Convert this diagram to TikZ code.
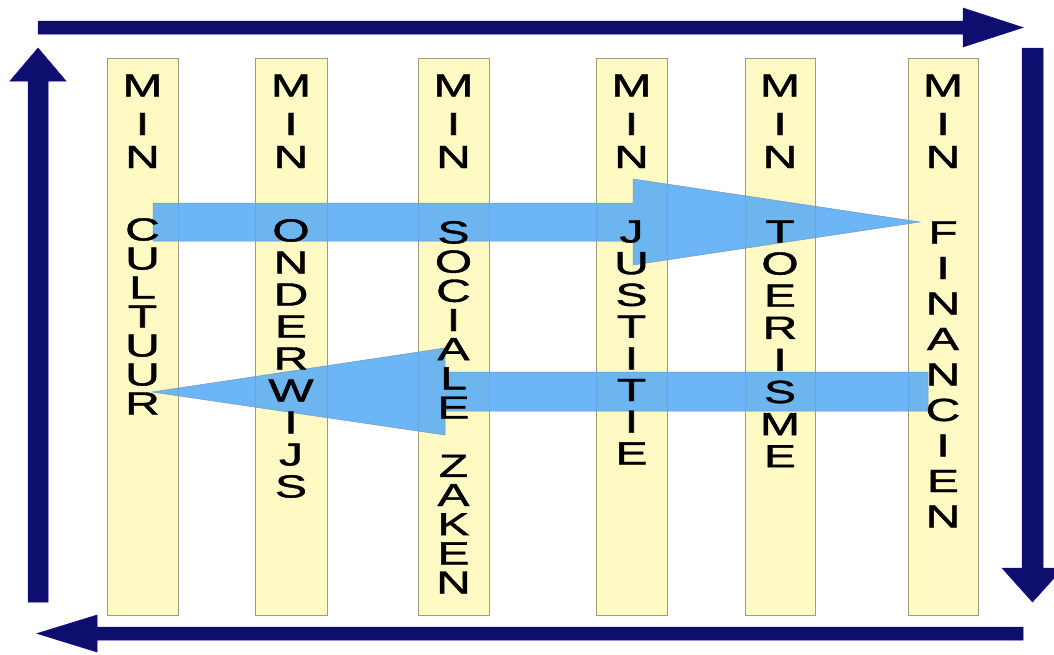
\documentclass[tikz,border=0pt]{standalone}
\usepackage{fontspec}
\setmainfont{Liberation Sans}
\newfontfamily\letterfont{Liberation Sans}[FakeBold=1.2]
\definecolor{navyarrow}{RGB}{14,14,110}
\definecolor{colfill}{RGB}{255,250,195}
\definecolor{colline}{RGB}{160,155,120}
\definecolor{flowblue}{RGB}{88,172,246}
\definecolor{flowline}{RGB}{120,150,185}
\tikzset{
  column/.style={draw=colline, line width=0.8pt, fill=colfill},
  letter/.style={inner sep=0pt, text height=23pt, text depth=0pt, font=\letterfont\fontsize{32}{32}\selectfont},
  cyclearrow/.style={fill=navyarrow, draw=navyarrow!80!blue, line width=0.5pt},
  flowarrow/.style={fill=flowblue, fill opacity=0.88, draw=flowline, line width=0.5pt}
}
\newcommand\minletters[2]{%
  \foreach \ch/\yy [count=\i] in {M/85,I/123.5,N/156.5}
    \node[letter] (#1-min\i) at (#2,\yy) {\scalebox{1.5}[1]{\ch}};}
\newcommand\wordletters[5]{%
  \foreach \ch [count=\i from 0] in {#5}
    \node[letter] (#1-w\i) at (#2,{#3+\i*#4}) {\scalebox{1.5}[1]{\ch}};}
\begin{document}
\begin{tikzpicture}[x=1pt,y=-1pt]
\clip (0,0) rectangle (1054,654);
\fill[white] (0,0) rectangle (1054,654);
% columns
\node[column, minimum width=71pt, minimum height=557pt, anchor=north west, inner sep=0pt] (cul) at (107,58) {};
\node[column, minimum width=72pt, minimum height=557pt, anchor=north west, inner sep=0pt] (ond) at (255,58) {};
\node[column, minimum width=71pt, minimum height=557pt, anchor=north west, inner sep=0pt] (soc) at (418,58) {};
\node[column, minimum width=71pt, minimum height=557pt, anchor=north west, inner sep=0pt] (jus) at (596,58) {};
\node[column, minimum width=70pt, minimum height=557pt, anchor=north west, inner sep=0pt] (toe) at (745,58) {};
\node[column, minimum width=70pt, minimum height=557pt, anchor=north west, inner sep=0pt] (fin) at (908,58) {};
% cycle arrows
\fill[cyclearrow] (38,21)--(963,21)--(963,8)--(1023,27.5)--(963,47)--(963,34)--(38,34)--cycle;
\fill[cyclearrow] (1022,48)--(1043,48)--(1043,568)--(1063,568)--(1032.5,602)--(1002,568)--(1022,568)--cycle;
\fill[cyclearrow] (1023,627)--(97,627)--(97,615)--(37,633.5)--(97,652)--(97,640)--(1023,640)--cycle;
\fill[cyclearrow] (28,602)--(48,602)--(48,81)--(66,81)--(38,48)--(10,81)--(28,81)--cycle;
% flow arrows
\filldraw[flowarrow] (153,203)--(633,203)--(633,179)--(920,222)--(633,265)--(633,241)--(153,241)--cycle;
\filldraw[flowarrow] (928,372)--(445,372)--(445,348)--(152,392)--(445,435)--(445,411)--(928,411)--cycle;
% letters
\minletters{cul}{142.5}
\minletters{ond}{291}
\minletters{soc}{453.5}
\minletters{jus}{631.5}
\minletters{toe}{780}
\minletters{fin}{943}
\wordletters{cul}{142.5}{229}{29}{C,U,L,T,U,U,R}
\wordletters{ond}{291}{230}{32}{O,N,D,E,R,W,I,J,S}
\wordletters{soc}{453.5}{232}{29.17}{S,O,C,I,A,L,E,{},Z,A,K,E,N}
\wordletters{jus}{631.5}{231}{31.7}{J,U,S,T,I,T,I,E}
\wordletters{toe}{780}{231}{32.1}{T,O,E,R,I,S,M,E}
\wordletters{fin}{943}{232}{35.5}{F,I,N,A,N,C,I,E,N}
\end{tikzpicture}
\end{document}
